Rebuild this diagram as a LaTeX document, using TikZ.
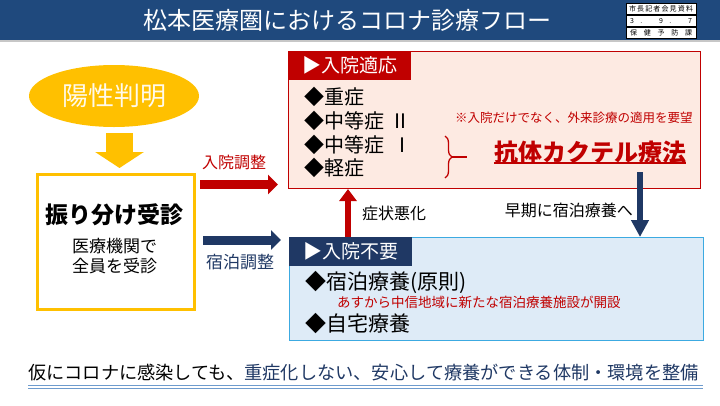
\documentclass[tikz,border=0pt]{standalone}
\usepackage{fontspec}
\setmainfont{Noto Sans CJK JP}
\usetikzlibrary{arrows.meta,positioning,shapes.geometric,calc,decorations.pathreplacing}
\definecolor{titlebar}{RGB}{31,73,125}
\definecolor{navyblue}{RGB}{31,56,100}
\definecolor{deepred}{RGB}{192,0,0}
\definecolor{softpink}{RGB}{253,234,226}
\definecolor{softblue}{RGB}{222,235,247}
\definecolor{skyline}{RGB}{60,170,225}
\definecolor{gold}{RGB}{255,192,0}
\definecolor{lineblue}{RGB}{110,155,205}
\newcommand{\jsize}[1]{\fontsize{#1}{#1}\selectfont}
\tikzset{
  titletext/.style={text=white,font=\jsize{24},inner sep=0pt},
  stampcell/.style={draw=black,fill=white,minimum width=70pt,minimum height=11.3pt,inner sep=0pt,
    font=\jsize{7}},
  hospbox/.style={draw=deepred,line width=1.2pt,fill=softpink,anchor=north west,inner sep=0pt},
  restbox/.style={draw=skyline,line width=1.2pt,fill=softblue,anchor=north west,inner sep=0pt},
  tabred/.style={fill=deepred,text=white,anchor=north west,minimum width=123pt,minimum height=29pt,
    inner sep=0pt,font=\jsize{19}},
  tabnavy/.style={tabred,fill=navyblue},
  item/.style={anchor=west,inner sep=0pt,font=\jsize{20}},
  redflow/.style={-{Triangle[length=10pt,width=19pt]},line width=9pt,draw=deepred},
  navyflow/.style={-{Triangle[length=10pt,width=19pt]},line width=9pt,draw=navyblue},
  redup/.style={-{Triangle[length=12pt,width=17pt]},line width=5.5pt,draw=deepred},
  navydown/.style={-{Triangle[length=17pt,width=17pt]},line width=5.5pt,draw=navyblue},
  flowlabel/.style={inner sep=0pt,font=\jsize{16}},
  rednote/.style={inner sep=0pt,text=deepred,anchor=west}
}

\begin{document}
\begin{tikzpicture}[x=1pt,y=-1pt]
  \useasboundingbox (0,0) rectangle (720,405);
  % title
  \fill[titlebar] (0,0) rectangle (720,40);
  \fill[black!22] (0,40) rectangle (720,42);
  \node[titletext] (title) at (347,20) {松本医療圏におけるコロナ診療フロー};
  \node[stampcell] (st1) at (661,9) {\makebox[64pt][s]{市 長 記 者 会 見 資 料}};
  \node[stampcell,below=0pt of st1] (st2) {\makebox[62pt][s]{3 . 9 . 7}};
  \node[stampcell,below=0pt of st2] (st3) {\makebox[62pt][s]{保 健 予 防 課}};

  % left column
  \node[ellipse,fill=gold,minimum width=170pt,minimum height=62pt,inner sep=0pt,text=white!92!gold,
    font=\jsize{26}] (pos) at (114,96) {陽性判明};
  \node[draw=gold,line width=2.6pt,fill=white,minimum width=157pt,minimum height=135pt,inner sep=0pt,
    anchor=north west] (sort) at (36,173) {};
  \node[inner sep=0pt,font=\jsize{23}\bfseries] (sorttit) at (114.5,215) {振り分け受診};
  \node[inner sep=0pt,font=\jsize{17},align=center,below=12pt of sorttit] (sortsub)
    {医療機関で\\[3pt]全員を受診};
  \coordinate (ya) at (119.5,133);
  \coordinate (yb) at (119.5,168);
  \draw[line width=27pt,draw=gold,-{Triangle[length=16pt,width=48pt]}] (ya) -- (yb);

  % hospital box
  \node[hospbox,minimum width=412pt,minimum height=137pt] (hosp) at (288,51) {};
  \node[tabred] (hosptab) at (288,51) {▶入院適応};
  \node[item] (i1) at (304,97) {◆重症};
  \node[item] (i2) at (304,121) {◆中等症\hspace{6pt}Ⅱ};
  \node[item] (i3) at (304,145) {◆中等症\hspace{8pt}Ⅰ};
  \node[item] (i4) at (304,168) {◆軽症};
  \draw[deepred,line width=1.3pt,decorate,decoration={brace,amplitude=7pt}] (445,136) -- (445,178);
  \draw[deepred,line width=1.3pt] (452,157) -- (467,157);
  \node[rednote,font=\jsize{12.5}] (note) at (455,118) {※入院だけでなく、外来診療の適用を要望};
  \node[inner sep=0pt,text=deepred,font=\jsize{24}\bfseries] (cocktail) at (590,152) {抗体カクテル療法};
  \draw[deepred,line width=1.2pt] (cocktail.west |- 0,163) -- (cocktail.east |- 0,163);

  % rest box
  \node[restbox,minimum width=414pt,minimum height=103pt] (rest) at (289,237) {};
  \node[tabnavy] (resttab) at (289,237) {▶入院不要};
  \node[item,font=\jsize{21}] (r1) at (305,282) {◆宿泊療養(原則)};
  \node[rednote,font=\jsize{13.5}] (newhotel) at (337,302) {あすから中信地域に新たな宿泊療養施設が開設};
  \node[item,font=\jsize{21}] (r2) at (305,324) {◆自宅療養};

  % connectors
  \coordinate (adA) at (200,184.5);
  \coordinate (adB) at (278,184.5);
  \draw[redflow] (adA) -- (adB);
  \node[flowlabel,text=deepred] (adlab) at (234,162) {入院調整};
  \coordinate (stA) at (203,240);
  \coordinate (stB) at (281,240);
  \draw[navyflow] (stA) -- (stB);
  \node[flowlabel,text=navyblue,font=\jsize{17}] (stlab) at (240,262) {宿泊調整};
  \coordinate (upA) at (348,237);
  \coordinate (upB) at (348,189);
  \draw[redup] (upA) -- (upB);
  \node[flowlabel,anchor=west] (worse) at (362,213) {症状悪化};
  \coordinate (dnA) at (640,172);
  \coordinate (dnB) at (640,237);
  \draw[navydown] (dnA) -- (dnB);
  \node[flowlabel,anchor=east] (early) at (633,210) {早期に宿泊療養へ};

  % bottom message
  \node[inner sep=0pt,anchor=west,font=\jsize{18.2}] (msg) at (28,373)
    {仮にコロナに感染しても、\textcolor{navyblue}{重症化しない、安心して療養ができる体制・環境を整備}};
  \draw[lineblue,line width=1pt] (28,385.5) -- (703,385.5);
  \draw[lineblue,line width=1pt] (28,388.5) -- (703,388.5);
\end{tikzpicture}
\end{document}
